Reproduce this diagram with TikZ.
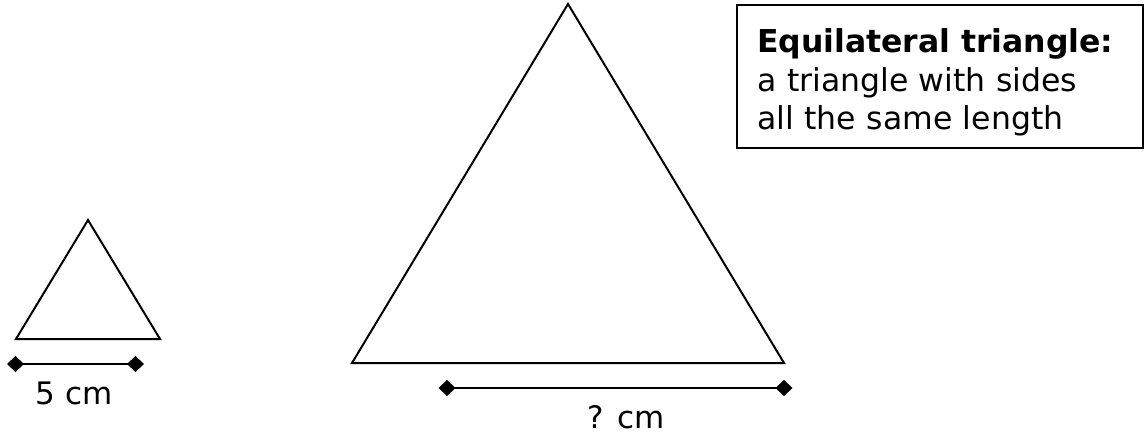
\documentclass[tikz,border=0pt]{standalone}
\usepackage{fontspec}
\setmainfont{DejaVu Sans}
\usetikzlibrary{arrows.meta}
\begin{document}
\begin{tikzpicture}[x=1pt,y=-1pt,
  tri/.style={line width=2pt, line join=miter},
  dimline/.style={line width=2.4pt, {Diamond[length=17pt,width=16pt]}-{Diamond[length=17pt,width=16pt]}},
  lbl/.style={font=\fontsize{31}{36}\selectfont, anchor=base, inner sep=0pt},
  defbox/.style={draw, line width=2.4pt, anchor=north west, align=left, text width=366pt,
    inner xsep=20pt, inner ysep=0pt, minimum width=406pt, minimum height=143pt,
    font=\fontsize{31.5}{38.5}\selectfont}
]
\useasboundingbox (0,0) rectangle (1147,435);
% small triangle
\coordinate (sA) at (88,220);
\coordinate (sL) at (16,339);
\coordinate (sR) at (160,339);
\draw[tri] (sA) -- (sL) -- (sR) -- cycle;
\coordinate (sd1) at (7,364);
\coordinate (sd2) at (144,364);
\draw[dimline] (sd1) -- (sd2);
\node[lbl] (slabel) at (74,404) {5 cm};
% big triangle
\coordinate (bA) at (568,4);
\coordinate (bL) at (352,363);
\coordinate (bR) at (784,363);
\draw[tri] (bA) -- (bL) -- (bR) -- cycle;
\coordinate (bd1) at (438.5,388);
\coordinate (bd2) at (792.5,388);
\draw[dimline] (bd1) -- (bd2);
\node[lbl] (blabel) at (626,428) {? cm};
% definition box
\node[defbox] (def) at (736,4) {\rule{0pt}{36pt}\textbf{Equilateral triangle:}\\a triangle with sides\\all the same length};
\end{tikzpicture}
\end{document}
